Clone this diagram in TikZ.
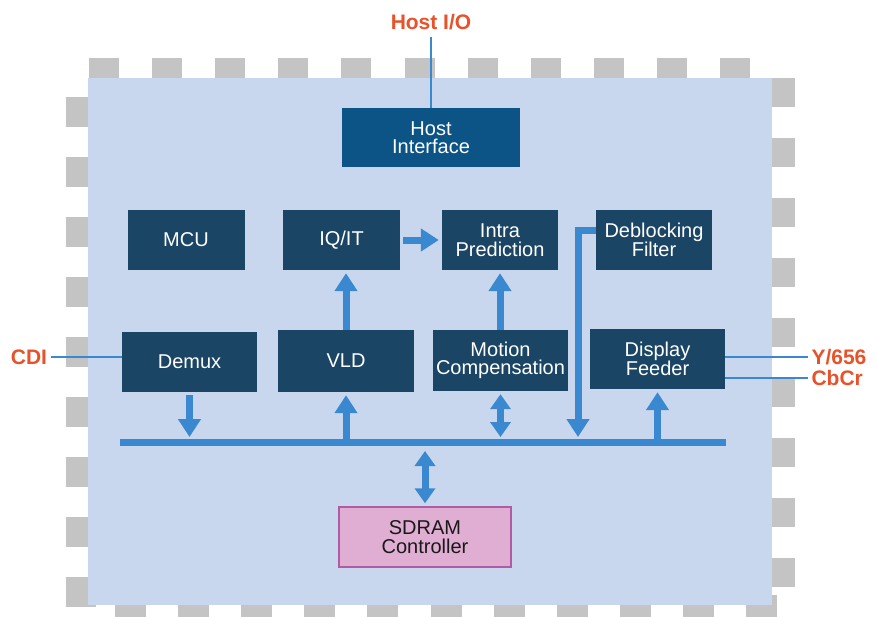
\documentclass[tikz,border=0pt]{standalone}
\usepackage{fontspec}
\setmainfont{Liberation Sans}
\usetikzlibrary{arrows.meta}

\definecolor{chipbg}{HTML}{C8D7ED}
\definecolor{pingrey}{HTML}{C4C4C4}
\definecolor{navy}{HTML}{1A4565}
\definecolor{hostblue}{HTML}{0D5486}
\definecolor{flow}{HTML}{3A89D0}
\definecolor{ioorange}{HTML}{E8522A}
\definecolor{sdramfill}{HTML}{E0AED2}
\definecolor{sdramline}{HTML}{B05CA4}

\newcommand{\blkfont}{\fontsize{20}{18.5}\selectfont}
\newcommand{\lblfont}{\fontsize{21}{21}\selectfont\bfseries}

\tikzset{
  pin/.style={fill=pingrey},
  blk/.style={fill=navy, text=white, inner sep=0pt, align=center,
    minimum width=117pt, minimum height=60pt, font=\blkfont},
  wideblk/.style={blk, minimum width=135pt},
  lbl/.style={text=ioorange, font=\lblfont},
  sig/.style={draw=flow, line width=2pt},
  bus/.style={draw=flow, line width=7pt},
  arr/.style={draw=flow, line width=7pt, -{Triangle[width=22pt,length=18pt]},
    shorten <=3pt, shorten >=3pt},
  biarr/.style={arr, {Triangle[width=20pt,length=15pt]}-{Triangle[width=20pt,length=15pt]}}
}

\begin{document}
\begin{tikzpicture}[x=1pt,y=-1pt]
  \useasboundingbox (0,0) rectangle (877,616);
  \clip (0,0) rectangle (877,616);

  % package pins and die
  \foreach \k in {0,...,10}
    \fill[pin] ({89+63.1*\k},58) rectangle +(30,30);
  \foreach \k in {0,...,9}
    \fill[pin] (66,{97+60*\k}) rectangle +(30,30);
  \foreach \k in {0,...,8}
    \fill[pin] (765,{78+60*\k}) rectangle +(30,29);
  \foreach \k in {0,...,10}
    \fill[pin] ({115+63.1*\k},595) rectangle +(31,30);
  \fill[chipbg] (88,78) rectangle (772,605);

  % blocks
  \node[blk, fill=hostblue, minimum width=178pt, minimum height=59pt] (host) at (431,137.5) {Host\\Interface};
  \node[blk] (mcu) at (186,240) {MCU};
  \node[blk] (iqit) at (341.5,240) {IQ/IT};
  \node[blk, minimum width=116pt] (intra) at (500,240) {Intra\\Prediction};
  \node[blk, minimum width=116pt] (deblock) at (654,240) {Deblocking\\Filter};
  \node[wideblk] (demux) at (189.5,362) {Demux};
  \node[wideblk, minimum width=136pt, minimum height=62pt] (vld) at (346,361) {VLD};
  \node[wideblk, minimum height=61pt] (mc) at (500.5,360.5) {Motion\\Compensation};
  \node[wideblk] (feeder) at (657.5,359) {Display\\Feeder};
  \node[blk, fill=sdramfill, draw=sdramline, line width=1.5pt, text=black!90,
    minimum width=172pt] (sdram) at (425,537) {SDRAM\\Controller};

  % external signals
  \node[lbl] (hostio) at (431,22) {Host I/O};
  \node[lbl] (cdi) at (29,357) {CDI};
  \node[lbl, anchor=west] (y656) at (808,357) {Y/656};
  \node[lbl, anchor=west] (cbcr) at (808,378) {CbCr};
  \draw[sig, shorten <=4pt] (hostio) -- (host);
  \draw[sig] (cdi) -- (cdi -| demux.west);
  \draw[sig] (y656.west -| feeder.east) -- (y656.west);
  \draw[sig] (cbcr.west -| feeder.east) -- (cbcr.west);

  % internal bus
  \coordinate (busl) at (120,442);
  \coordinate (busr) at (726,442);
  \coordinate (dbk) at (578,442);
  \draw[bus] (busl) -- (busr);

  % data flow
  \draw[arr, shorten >=5pt] (demux) -- (demux |- busl);
  \draw[arr, shorten <=0pt] (vld |- busl) -- (vld);
  \draw[arr, shorten <=0pt] (vld.north) -- (vld.north |- iqit.south);
  \draw[arr] (iqit) -- (intra);
  \draw[arr, shorten <=0pt] (intra |- mc.north) -- (intra);
  \draw[biarr, shorten >=5pt] (mc) -- (mc |- busl);
  \draw[arr, shorten <=0pt, shorten >=5pt] ([yshift=10pt]deblock.west) -| (dbk);
  \draw[arr, shorten <=0pt] (feeder |- busl) -- (feeder);
  \draw[biarr, shorten <=9pt] (sdram |- busl) -- (sdram);
\end{tikzpicture}
\end{document}
